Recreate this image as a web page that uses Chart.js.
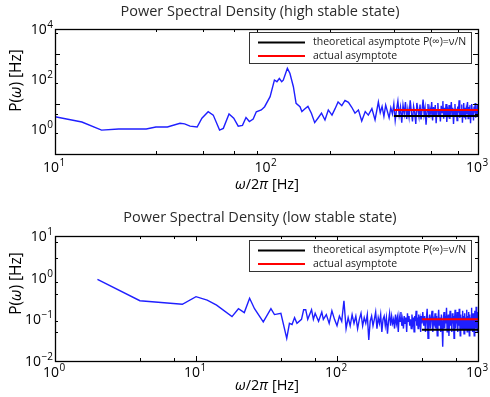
<!DOCTYPE html>
<html>
<head>
<meta charset="utf-8">
<script src="https://cdn.jsdelivr.net/npm/chart.js@4.4.1/dist/chart.umd.min.js"></script>
<style>
html,body{margin:0;padding:0;background:#fff;}
#wrap{position:relative;width:490px;height:397px;overflow:hidden;}
canvas{position:absolute;left:0;}
</style>
</head>
<body>
<div id="wrap">
<canvas id="c1" width="490" height="200" style="top:0"></canvas>
<canvas id="c2" width="490" height="197" style="top:200px"></canvas>
</div>
<script>
// ---------- DATA: high stable state ----------
const highFreq = [10,13.4,16.6,20,23,27,30,34,39,41,43.5,47,49.5,53,56,60,62.5,66.5,70,73.5,
77,80,83,86.5,89.5,94.5,98,104,109,112,115,118,120,125.5,129,134,138,144,147,152,
157,163,169,175,182,189,196,204,211,218,227,235,244,253,262,272,282,293,303,315,326,338,
345,352,359,366,373,380,387,394,400,406,412,418,424,430,436,442,448,454,460,466,472,478,
484,490,496,502,508,514,520,526,532,538,544,550,556,562,568,574,580,586,592,598,604,610,
616,622,628,634,640,646,652,658,664,670,676,682,688,694,700,706,712,718,724,730,736,742,
748,754,760,766,772,778,784,790,796,802,808,814,820,826,832,838,844,850,856,862,868,874,
880,886,892,898,904,910,916,922,928,934,940,946,952,958,964,970,976,982,988,994,1000];
const highPSD = [3.1,1.9,0.9,1.0,1.0,1.0,1.2,1.2,1.7,1.6,1.3,1.2,2.7,4.9,3.6,0.9,1.06,4,2.7,1.3,
1.4,2.9,2,2.5,4.9,5.8,7.8,19.6,91,78,105,78,90,267,170,49,10.6,7.8,5,6.5,
8,4.3,1.8,2.7,4.3,2.3,5.8,3.6,6.5,12,8.6,14,11.6,7.4,4.3,5.8,2.1,5,3.6,6.5,2.3,12,
4.5,8,3.2,9,5,2.8,7,4,10,2.2,6,13,3.5,7.5,1.8,9,4,12,2.5,6.5,3,14,
5,2,8,4.5,1.6,11,5.5,3,9.5,2.4,6,15,3.8,7,1.5,5,10,2.8,6.5,4,12,2.2,
7.5,3.6,9,1.7,5.5,11,3,6,2,8.5,4.5,13,2.6,7,3.4,10,1.9,6,4,9,2.5,5.5,
12,3.2,7,1.6,5,10,3,6.5,2.2,8,4.5,14,2.8,6,3.5,9.5,1.8,5.5,11,3,7,2.4,
6,4,12,2.6,7.5,3.8,9,1.7,5,10,3.2,6.5,2.2,8,4.5,11,2.8,6,3.5,9,4];
const highAsymFreq = [400, 1000];
const highTheoretical = [3.3, 3.3];
const highActual = [5.8, 5.8];

// ---------- DATA: low stable state ----------
const lowFreq = [2,4,8,10,12,14,18,20,22,24,26,30,34,36,40,44,46,48,50,52,
56,58,60,62,66,68,70,74,78,80,84,88,92,96,100,104,108,112,116,
120,124,128,132,136,140,144,148,152,156,160,164,168,172,176,180,184,188,192,196,
200,204,208,212,216,220,224,228,232,236,240,244,248,252,256,260,264,268,272,276,
280,284,288,292,296,300,304,308,312,316,320,324,328,332,336,340,344,348,352,356,
360,364,368,372,376,380,384,388,392,396,400,
406,412,418,424,430,436,442,448,454,460,466,472,478,484,490,496,502,508,514,520,
526,532,538,544,550,556,562,568,574,580,586,592,598,604,610,616,622,628,634,640,
646,652,658,664,670,676,682,688,694,700,706,712,718,724,730,736,742,748,754,760,
766,772,778,784,790,796,802,808,814,820,826,832,838,844,850,856,862,868,874,880,
886,892,898,904,910,916,922,928,934,940,946,952,958,964,970,976,982,988,994,1000];
const lowPSD = [0.91,0.28,0.23,0.35,0.29,0.22,0.116,0.18,0.145,0.32,0.18,0.087,0.18,0.13,0.14,0.035,0.08,0.075,0.11,0.08,
0.1,0.17,0.17,0.1,0.17,0.1,0.14,0.09,0.15,0.1,0.13,0.08,0.16,0.1,0.07,0.12,0.09,0.28,0.06,
0.11,0.07,0.13,0.08,0.12,0.06,0.1,0.14,0.07,0.11,0.08,0.13,0.032,0.09,0.12,0.07,0.1,0.15,0.06,0.11,
0.08,0.13,0.05,0.1,0.12,0.07,0.11,0.045,0.09,0.14,0.07,0.12,0.08,0.1,0.06,0.13,0.08,0.11,0.05,0.12,
0.09,0.15,0.07,0.1,0.06,0.12,0.08,0.11,0.05,0.14,0.09,0.12,0.07,0.1,0.06,0.13,0.08,0.11,0.05,0.12,
0.09,0.16,0.07,0.11,0.06,0.13,0.08,0.1,0.05,0.12,0.08,
0.15,0.07,0.12,0.05,0.1,0.18,0.035,0.09,0.13,0.06,0.11,0.16,0.05,0.1,0.08,0.14,0.06,0.12,0.04,0.09,
0.17,0.07,0.11,0.05,0.13,0.08,0.022,0.1,0.15,0.06,0.12,0.08,0.19,0.05,0.1,0.13,0.04,0.09,0.16,0.07,
0.11,0.05,0.14,0.08,0.12,0.035,0.1,0.17,0.06,0.11,0.08,0.15,0.05,0.12,0.07,0.18,0.09,0.04,0.13,0.07,
0.11,0.06,0.16,0.08,0.12,0.045,0.1,0.14,0.06,0.11,0.08,0.17,0.05,0.12,0.07,0.15,0.09,0.04,0.13,0.08,
0.11,0.06,0.19,0.07,0.12,0.05,0.14,0.09,0.11,0.04,0.16,0.07,0.12,0.06,0.2,0.08,0.11,0.05,0.15,0.1];
const lowAsymFreq = [400, 1000];
const lowTheoretical = [0.056, 0.056];
const lowActual = [0.1, 0.1];

// ---------- tick labels ----------
const highXLabels = [10, 100, 1000];
const highYLabels = [1, 100, 10000];
const lowXLabels = [1, 10, 100, 1000];
const lowYLabels = [0.01, 0.1, 1, 10];
const titles = ['Power Spectral Density (high stable state)', 'Power Spectral Density (low stable state)'];
const legendLabels = ['theoretical asymptote P(\u221E)=\u03BD/N', 'actual asymptote'];

const FONT = '"Open Sans", "Noto Sans", sans-serif';

function pts(xs, ys){ return xs.map((x,i)=>({x:x, y:ys[i]})); }
function logTicks(min, max){
  const out = [];
  for (let e = Math.floor(Math.log10(min)); e <= Math.ceil(Math.log10(max)); e++) {
    for (let m = 1; m <= 9; m++) {
      const v = m * Math.pow(10, e);
      if (v >= min*0.999 && v <= max*1.001) out.push(+v.toPrecision(6));
    }
  }
  return out;
}
function isPow(v){ const l = Math.log10(v); return Math.abs(l - Math.round(l)) < 1e-6; }
function expStr(v){ const e = Math.round(Math.log10(v)); return (e < 0 ? '\u2212' : '') + Math.abs(e); }

function drawPow(ctx, v, x, baseY, align){
  ctx.font = '14px ' + FONT;
  const w10 = ctx.measureText('10').width;
  ctx.font = '10px ' + FONT;
  const es = expStr(v);
  const we = ctx.measureText(es).width;
  const total = w10 + we + 0.5;
  let sx = align === 'center' ? x - total/2 : x - total;
  ctx.textAlign = 'left';
  ctx.textBaseline = 'alphabetic';
  ctx.fillStyle = '#000';
  ctx.font = '14px ' + FONT;
  ctx.fillText('10', sx, baseY);
  ctx.font = '10px ' + FONT;
  ctx.fillText(es, sx + w10 + 0.5, baseY - 6);
}

function drawSegments(ctx, segs, x, y, align, size){
  let total = 0;
  const ws = segs.map(s => { ctx.font = (s[1] ? 'italic ' : '') + size + 'px ' + FONT; const w = ctx.measureText(s[0]).width; total += w; return w; });
  let sx = align === 'center' ? x - total/2 : x;
  ctx.textAlign = 'left';
  segs.forEach((s,i) => { ctx.font = (s[1] ? 'italic ' : '') + size + 'px ' + FONT; ctx.fillText(s[0], sx, y); sx += ws[i]; });
}

const matlabPlugin = {
  id: 'matlab',
  afterDraw(chart, args, o) {
    const ctx = chart.ctx;
    const a = chart.chartArea;
    const xs = chart.scales.x, ys = chart.scales.y;
    ctx.save();
    ctx.strokeStyle = '#000';
    ctx.lineWidth = 1;
    ctx.beginPath();
    xs.ticks.forEach(t => {
      const px = Math.round(xs.getPixelForValue(t.value)) + 0.5;
      const len = isPow(t.value) ? 5 : 3;
      ctx.moveTo(px, a.bottom); ctx.lineTo(px, a.bottom - len);
      ctx.moveTo(px, a.top); ctx.lineTo(px, a.top + len);
    });
    ys.ticks.forEach(t => {
      const py = Math.round(ys.getPixelForValue(t.value)) + 0.5;
      const len = isPow(t.value) ? 5 : 3;
      ctx.moveTo(a.left, py); ctx.lineTo(a.left + len, py);
      ctx.moveTo(a.right, py); ctx.lineTo(a.right - len, py);
    });
    ctx.stroke();
    ctx.lineWidth = 1.3;
    ctx.strokeRect(Math.round(a.left)+0.5, Math.round(a.top)+0.5, Math.round(a.right - a.left), Math.round(a.bottom - a.top));
    o.xLabels.forEach(v => drawPow(ctx, v, xs.getPixelForValue(v) - 1, a.bottom + o.xTickOff, 'center'));
    o.yLabels.forEach(v => drawPow(ctx, v, a.left - 2, ys.getPixelForValue(v) + 5, 'right'));
    // title
    ctx.fillStyle = '#2a2a2a';
    ctx.font = '14.5px ' + FONT;
    ctx.textAlign = 'center';
    ctx.textBaseline = 'alphabetic';
    ctx.fillText(o.title, 260, o.titleY);
    // x title
    ctx.fillStyle = '#000';
    drawSegments(ctx, [['\u03C9', true], ['/2', false], ['\u03C0', true], [' [Hz]', false]], 267, a.bottom + o.xTitleOff, 'center', 14.5);
    // y title
    ctx.save();
    ctx.translate(21, (a.top + a.bottom)/2 + o.yTitleOff);
    ctx.rotate(-Math.PI/2);
    drawSegments(ctx, [['P(', false], ['\u03C9', true], [') [Hz]', false]], 0, 0, 'center', 15.5);
    ctx.restore();
    // legend
    const lb = o.legendBox;
    ctx.fillStyle = '#fff';
    ctx.fillRect(lb[0], lb[1], lb[2], lb[3]);
    ctx.strokeStyle = '#333';
    ctx.lineWidth = 1;
    ctx.strokeRect(lb[0] + 0.5, lb[1] + 0.5, lb[2], lb[3]);
    const rows = [[chart.data.datasets[0].borderColor, legendLabels[0]], [chart.data.datasets[1].borderColor, legendLabels[1]]];
    rows.forEach((r, i) => {
      const y = lb[1] + 10.5 + i * 13.5;
      ctx.strokeStyle = r[0];
      ctx.lineWidth = 2;
      ctx.beginPath(); ctx.moveTo(lb[0] + 9, y); ctx.lineTo(lb[0] + 56, y); ctx.stroke();
      ctx.fillStyle = '#222';
      ctx.font = '10.5px ' + FONT;
      ctx.textAlign = 'left';
      ctx.textBaseline = 'middle';
      ctx.fillText(r[1], lb[0] + 64, y);
    });
    ctx.restore();
  }
};

function makeChart(id, cfg){
  return new Chart(document.getElementById(id), {
    type: 'scatter',
    data: {
      datasets: [
        { data: pts(cfg.asymFreq, cfg.theo), borderColor: '#000000', borderWidth: 2, showLine: true, pointRadius: 0 },
        { data: pts(cfg.asymFreq, cfg.act), borderColor: '#ff0000', borderWidth: 2, showLine: true, pointRadius: 0 },
        { data: pts(cfg.freq, cfg.psd), borderColor: '#1f1fff', borderWidth: 1.4, showLine: true, pointRadius: 0, tension: 0 }
      ]
    },
    options: {
      responsive: false,
      animation: false,
      devicePixelRatio: 1,
      layout: { padding: cfg.padding },
      plugins: {
        legend: { display: false },
        tooltip: { enabled: false },
        matlab: { xLabels: cfg.xLabels, yLabels: cfg.yLabels, title: cfg.title, titleY: cfg.titleY, legendBox: cfg.legendBox,
                  xTickOff: cfg.xTickOff, xTitleOff: cfg.xTitleOff, yTitleOff: cfg.yTitleOff }
      },
      scales: {
        x: { type: 'logarithmic', display: false, min: cfg.xMin, max: cfg.xMax,
             afterBuildTicks: s => { s.ticks = logTicks(cfg.xMin, cfg.xMax).map(v => ({value: v})); } },
        y: { type: 'logarithmic', display: false, min: cfg.yMin, max: cfg.yMax,
             afterBuildTicks: s => { s.ticks = logTicks(cfg.yMin, cfg.yMax).map(v => ({value: v})); } }
      }
    },
    plugins: [matlabPlugin]
  });
}

makeChart('c1', {
  freq: highFreq, psd: highPSD, asymFreq: highAsymFreq, theo: highTheoretical, act: highActual,
  xMin: 10, xMax: 1000, yMin: 0.1, yMax: 10000,
  xLabels: highXLabels, yLabels: highYLabels, title: titles[0], titleY: 16,
  xTickOff: 18, xTitleOff: 35, yTitleOff: -11,
  padding: { left: 55, right: 12, top: 29, bottom: 46 },
  legendBox: [249, 32, 222, 31]
});
makeChart('c2', {
  freq: lowFreq, psd: lowPSD, asymFreq: lowAsymFreq, theo: lowTheoretical, act: lowActual,
  xMin: 1, xMax: 1000, yMin: 0.01, yMax: 10,
  xLabels: lowXLabels, yLabels: lowYLabels, title: titles[1], titleY: 22,
  xTickOff: 16, xTitleOff: 29, yTitleOff: -15,
  padding: { left: 55, right: 12, top: 36, bottom: 36 },
  legendBox: [249, 40, 222, 31]
});
</script>
</body>
</html>
